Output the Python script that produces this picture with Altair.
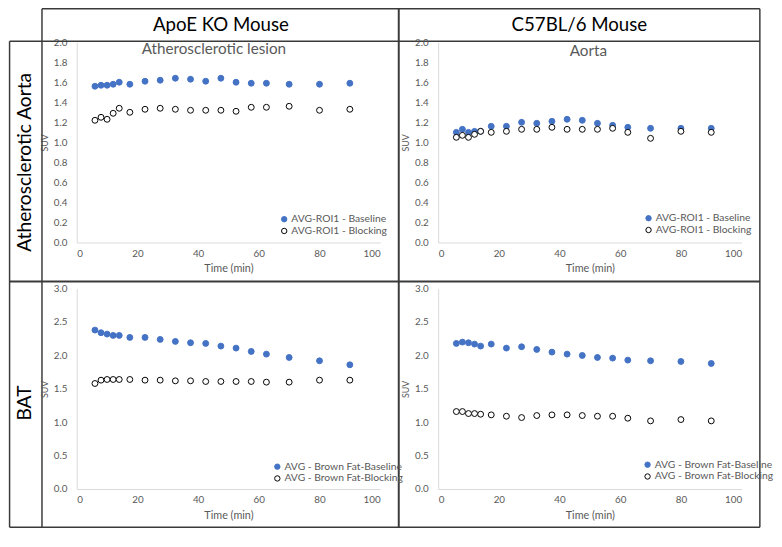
import altair as alt
import pandas as pd

# ---------------- data ----------------
time_min = [6, 8, 10, 12, 14, 17.5, 22.5, 27.5, 32.5, 37.5, 42.5, 47.5, 52.5, 57.5, 62.5, 70, 80, 90]

apoe_aorta_baseline = [1.56, 1.57, 1.57, 1.58, 1.60, 1.58, 1.61, 1.62, 1.64, 1.63, 1.61, 1.64, 1.60, 1.59, 1.59, 1.58, 1.58, 1.59]
apoe_aorta_blocking = [1.22, 1.25, 1.23, 1.29, 1.34, 1.30, 1.33, 1.34, 1.33, 1.32, 1.32, 1.32, 1.31, 1.35, 1.35, 1.36, 1.32, 1.33]
c57_aorta_baseline = [1.10, 1.13, 1.10, 1.11, 1.11, 1.16, 1.16, 1.20, 1.19, 1.21, 1.23, 1.22, 1.19, 1.17, 1.15, 1.14, 1.14, 1.14]
c57_aorta_blocking = [1.05, 1.07, 1.05, 1.08, 1.11, 1.10, 1.11, 1.13, 1.13, 1.15, 1.13, 1.13, 1.13, 1.14, 1.10, 1.04, 1.11, 1.10]
apoe_bat_baseline = [2.38, 2.34, 2.32, 2.30, 2.30, 2.27, 2.27, 2.24, 2.21, 2.19, 2.18, 2.14, 2.11, 2.06, 2.02, 1.97, 1.92, 1.86]
apoe_bat_blocking = [1.58, 1.63, 1.64, 1.64, 1.64, 1.64, 1.63, 1.63, 1.62, 1.62, 1.61, 1.61, 1.61, 1.61, 1.60, 1.60, 1.63, 1.63]
c57_bat_baseline = [2.18, 2.20, 2.19, 2.17, 2.14, 2.17, 2.11, 2.13, 2.09, 2.05, 2.02, 2.00, 1.97, 1.96, 1.93, 1.92, 1.91, 1.88]
c57_bat_blocking = [1.16, 1.16, 1.13, 1.13, 1.12, 1.11, 1.09, 1.07, 1.10, 1.11, 1.11, 1.10, 1.09, 1.09, 1.06, 1.02, 1.04, 1.02]

aorta_series = ["AVG-ROI1 - Baseline", "AVG-ROI1 - Blocking"]
bat_series = ["AVG - Brown Fat-Baseline", "AVG - Brown Fat-Blocking"]
column_titles = ["ApoE KO Mouse", "C57BL/6 Mouse"]
row_titles = ["Atherosclerotic Aorta", "BAT"]
panel_subtitles = ["Atherosclerotic lesion", "Aorta"]
x_ticks = [0, 20, 40, 60, 80, 100]
y_ticks_aorta = [0.0, 0.2, 0.4, 0.6, 0.8, 1.0, 1.2, 1.4, 1.6, 1.8, 2.0]
y_ticks_bat = [0.0, 0.5, 1.0, 1.5, 2.0, 2.5, 3.0]

# ---------------- styling ----------------
FONT = "Lato"
BLUE = "#4472C4"
GRAY = "#595959"
LINE = "#3a3a3a"
W, H = 309, 204
HSP, VSP = 59, 47
# top-left plot origin inside the table frame
OX, OY = 68.4, 34.0
R, B = 764, 528          # frame right / bottom
HDR = 33                 # header bottom / row-label column border
COLDIV = 396.3
ROWDIV = 277.7

dummy = pd.DataFrame({"d": [0]})


def text_layer(label, x, y, size, color="black", angle=0):
    return alt.Chart(pd.DataFrame({"label": [label]})).mark_text(
        font=FONT, fontSize=size, color=color, angle=angle,
        align="center", baseline="middle"
    ).encode(x=alt.value(x), y=alt.value(y), text="label:N")


def hrule(y, x1, x2, w=1.5):
    return alt.Chart(dummy).mark_rule(color=LINE, strokeWidth=w).encode(
        x=alt.value(x1 - OX), x2=alt.value(x2 - OX), y=alt.value(y - OY))


def vrule(x, y1, y2, w=1.5):
    return alt.Chart(dummy).mark_rule(color=LINE, strokeWidth=w).encode(
        x=alt.value(x - OX), y=alt.value(y1 - OY), y2=alt.value(y2 - OY))


def points(base, block, names, ymax, yticks, lx, ly):
    n = len(time_min)
    df = pd.DataFrame({
        "t": time_min * 2,
        "suv": base + block,
        "series": [names[0]] * n + [names[1]] * n,
    })
    leg = alt.Legend(
        title=None, orient="none", legendX=lx, legendY=ly, padding=0,
        labelFont=FONT, labelFontSize=10.5, labelColor=GRAY, labelOffset=2,
        symbolType="circle", symbolSize=30, symbolStrokeWidth=1, rowPadding=1,
    )
    return alt.Chart(df).mark_point(
        shape="circle", size=36, strokeWidth=1, opacity=1, fillOpacity=1
    ).encode(
        x=alt.X("t:Q", scale=alt.Scale(domain=[0, 100], nice=False),
                axis=alt.Axis(values=x_ticks, title="Time (min)", format="d")),
        y=alt.Y("suv:Q", scale=alt.Scale(domain=[0, ymax], nice=False),
                axis=alt.Axis(values=yticks, title="SUV", format=".1f")),
        fill=alt.Fill("series:N", scale=alt.Scale(domain=names, range=[BLUE, "white"]), legend=leg),
        stroke=alt.Stroke("series:N", scale=alt.Scale(domain=names, range=[BLUE, "black"]), legend=leg),
    )


# top-left panel carries the table frame and the headers
frame = [
    hrule(0, HDR, R), hrule(HDR, 0, R), hrule(B, 0, R), hrule(ROWDIV, 0, R, 2),
    vrule(0, HDR, B), vrule(HDR, 0, B), vrule(COLDIV, 0, B, 2), vrule(R, 0, B),
]

tl = alt.layer(
    points(apoe_aorta_baseline, apoe_aorta_blocking, aorta_series, 2.0, y_ticks_aorta, 206, 175),
    text_layer(panel_subtitles[0], 139.6, 7, 15.5, GRAY),
    text_layer(column_titles[0], 146.8, -17.5, 19),
    text_layer(row_titles[0], -52.7, 122.4, 19.5, angle=270),
    *frame,
).properties(width=W, height=H)

tr = alt.layer(
    points(c57_aorta_baseline, c57_aorta_blocking, aorta_series, 2.0, y_ticks_aorta, 209, 174),
    text_layer(panel_subtitles[1], 153, 8.7, 15.5, GRAY),
    text_layer(column_titles[1], 143.8, -17.5, 19),
).properties(width=W, height=H)

bl = alt.layer(
    points(apoe_bat_baseline, apoe_bat_blocking, bat_series, 3.0, y_ticks_bat, 199, 176),
    text_layer(row_titles[1], -52.7, 116.5, 19.5, angle=270),
).properties(width=W, height=H)

br = alt.layer(
    points(c57_bat_baseline, c57_bat_blocking, bat_series, 3.0, y_ticks_bat, 208, 174),
).properties(width=W, height=H)

chart = alt.concat(
    tl, tr, bl, br, columns=2, bounds="flush",
    spacing=alt.RowColnumber(row=VSP, column=HSP),
).resolve_scale(
    fill="independent", stroke="independent"
).resolve_legend(
    fill="independent", stroke="independent"
).properties(
    padding={"top": -5, "left": 0, "right": 0, "bottom": 0}, background="white"
).configure_view(
    stroke=None
).configure_axis(
    grid=False, ticks=False, domainColor="#D9D9D9", domainWidth=1,
    labelFont=FONT, labelFontSize=10, labelColor=GRAY,
    titleFont=FONT, titleColor=GRAY, titleFontWeight="normal",
).configure_axisX(
    labelPadding=6, titleFontSize=11, titlePadding=5,
).configure_axisY(
    labelPadding=10, titleFontSize=9, titlePadding=4,
)

chart.save("out.html", embed_options={"renderer": "svg", "actions": False})
